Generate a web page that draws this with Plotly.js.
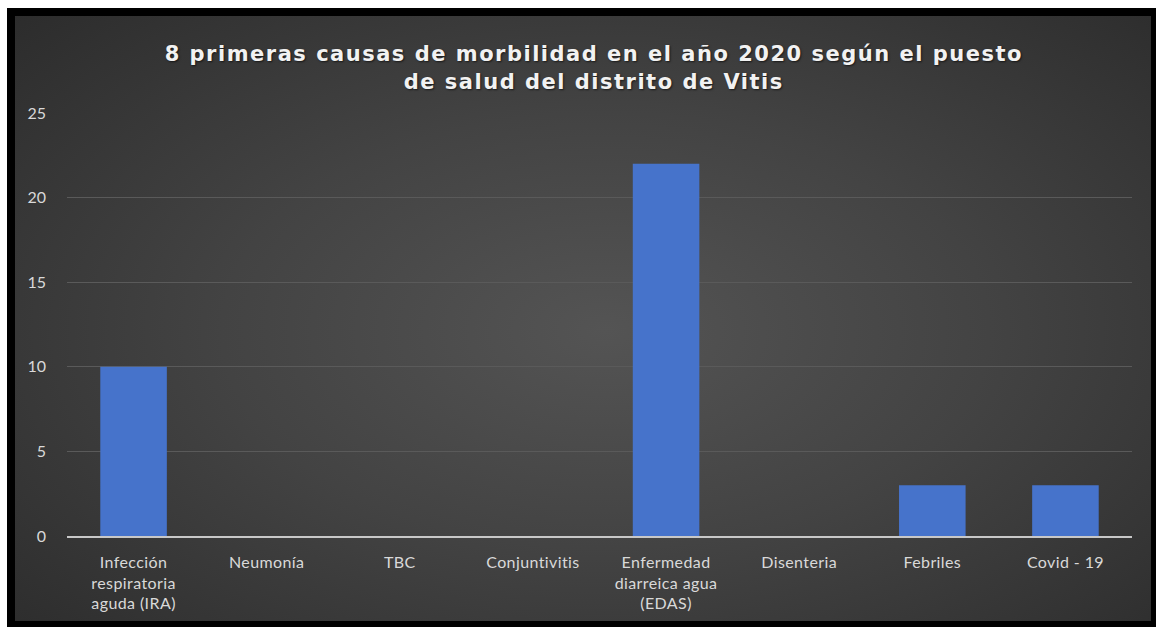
<!DOCTYPE html>
<html>
<head>
<meta charset="utf-8">
<script src="https://cdn.plot.ly/plotly-3.0.1.min.js"></script>
<style>
  html, body { margin: 0; padding: 0; background: #ffffff; width: 1156px; height: 627px; overflow: hidden; }
  #frame { position: absolute; left: 7px; top: 8px; width: 1149px; height: 619px; background: #000000; }
  #inner { position: absolute; left: 15px; top: 16px; width: 1136px; height: 605px;
           background: radial-gradient(ellipse 75% 80% at 52% 52%, #545454 0%, #434343 45%, #2a2a2a 100%); }
  #chart { position: absolute; left: 0; top: 0; width: 1136px; height: 605px; }
  #chart .gtitle { letter-spacing: 1.5px; }
  #chart .xtick text { letter-spacing: 0.4px; }
</style>
</head>
<body>
<div id="frame"></div>
<div id="inner"><div id="chart"></div></div>
<script>
const categories = [
  "Infección<br>respiratoria<br>aguda (IRA)",
  "Neumonía",
  "TBC",
  "Conjuntivitis",
  "Enfermedad<br>diarreica agua<br>(EDAS)",
  "Disenteria",
  "Febriles",
  "Covid - 19"
];
const values = [10, 0, 0, 0, 22, 0, 3, 3];
const yTicks = [0, 5, 10, 15, 20, 25];
const titleText = "8 primeras causas de morbilidad en el año 2020 según el puesto<br>de salud del distrito de Vitis";

const trace = {
  type: "bar",
  x: categories,
  y: values,
  marker: { color: "#4673cb", line: { width: 0 } },
  hoverinfo: "x+y"
};

const layout = {
  width: 1136,
  height: 605,
  paper_bgcolor: "rgba(0,0,0,0)",
  plot_bgcolor: "rgba(0,0,0,0)",
  margin: { l: 52, r: 19, t: 97, b: 85 },
  bargap: 0.5,
  showlegend: false,
  title: {
    text: titleText,
    font: { family: "DejaVu Sans", size: 21, color: "#f2f2f2", weight: "bold",
            shadow: "1px 1px 2px rgba(0,0,0,0.6)" },
    xref: "container", x: 0.5095, xanchor: "center",
    yref: "container", y: 0.925, yanchor: "top"
  },
  xaxis: {
    type: "category",
    showgrid: false,
    showline: true,
    linecolor: "#c8c8c8",
    linewidth: 1.5,
    ticks: "",
    ticklabelstandoff: 11,
    tickfont: { family: "Lato", size: 16, color: "#d9d9d9" },
    fixedrange: true
  },
  yaxis: {
    range: [0, 25],
    tickvals: yTicks,
    ticktext: yTicks.map(String),
    showgrid: true,
    gridcolor: "#5a5a5a",
    gridwidth: 1,
    zeroline: false,
    showline: false,
    ticks: "",
    ticklabelstandoff: 20,
    tickfont: { family: "Lato", size: 16, color: "#d9d9d9" },
    fixedrange: true
  }
};

Plotly.newPlot("chart", [trace], layout, { displayModeBar: false, staticPlot: true });
</script>
</body>
</html>
